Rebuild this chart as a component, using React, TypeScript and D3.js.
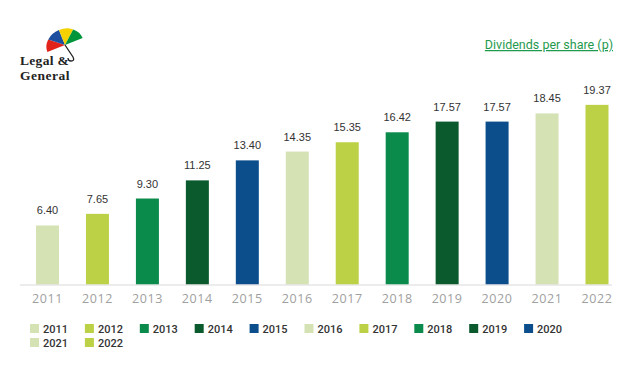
import React from "react";
import * as d3 from "d3";

const years = ["2011", "2012", "2013", "2014", "2015", "2016", "2017", "2018", "2019", "2020", "2021", "2022"];
const dividends = [6.4, 7.65, 9.3, 11.25, 13.4, 14.35, 15.35, 16.42, 17.57, 17.57, 18.45, 19.37];
const labels = ["6.40", "7.65", "9.30", "11.25", "13.40", "14.35", "15.35", "16.42", "17.57", "17.57", "18.45", "19.37"];
const palette = ["#d5e2b4", "#bdd147", "#0a8a4b", "#0b5a2d", "#0c4e8c"];

const W = 640;
const H = 369;
const baseY = 285;

export default function App() {
  const x = d3.scalePoint<string>().domain(years).range([47.5, 597]);
  const y = d3.scaleLinear().domain([0, 20]).range([baseY, 99]);
  const color = (i: number) => palette[i % palette.length];
  const barW = 23;

  // umbrella canopy wedges
  const arc = d3.arc<any>().innerRadius(0).outerRadius(19);
  const umbrellaColors = ["#e2231a", "#1d4f9e", "#f5d100", "#00953b"];
  const wedges = umbrellaColors.map((c, i) => ({
    c,
    start: -Math.PI / 2 + (i * Math.PI) / 4,
    end: -Math.PI / 2 + ((i + 1) * Math.PI) / 4,
  }));

  const legendX = (i: number) => 30 + (i % 10) * 54.9;
  const legendY = (i: number) => 324 + Math.floor(i / 10) * 14;

  return (
    <svg width={W} height={H} style={{ position: "absolute", left: 0, top: 0, background: "#fff" }}>
      {/* logo */}
      <g transform="translate(65,45) rotate(-22) scale(1,0.85)">
        {wedges.map((w, i) => (
          <path key={i} d={arc({ startAngle: w.start, endAngle: w.end }) as string} fill={w.c} />
        ))}
      </g>
      <path d="M65,45 L73,57 Q75,61 71,61 Q68,61 68,58" fill="none" stroke="#222" strokeWidth={1.3} />
      <text x={20} y={65} fontFamily="Liberation Serif" fontWeight="bold" fontSize={13.5} fill="#222" letterSpacing={0.3}>
        Legal &amp;
      </text>
      <text x={20} y={80} fontFamily="Liberation Serif" fontWeight="bold" fontSize={13.5} fill="#222" letterSpacing={0.5}>
        General
      </text>

      {/* title */}
      <text x={613} y={49} textAnchor="end" fontFamily="Roboto" fontSize={12.5} fill="#1f9a4e" textDecoration="underline">
        Dividends per share (p)
      </text>

      {/* bars */}
      {years.map((yr, i) => (
        <g key={yr}>
          <rect x={x(yr)! - barW / 2} y={y(dividends[i])} width={barW} height={baseY - y(dividends[i])} fill={color(i)} />
          <text x={x(yr)} y={y(dividends[i]) - 11} textAnchor="middle" fontFamily="Liberation Sans" fontSize={11} fill="#333">
            {labels[i]}
          </text>
        </g>
      ))}

      {/* baseline */}
      <line x1={20} x2={612} y1={baseY} y2={baseY} stroke="#e6e6e6" strokeWidth={1.5} />

      {/* x labels */}
      {years.map((yr) => (
        <text key={yr} x={x(yr)} y={303} textAnchor="middle" fontFamily="Open Sans" fontSize={12.5} fill="#a0a0a0" letterSpacing={0.6}>
          {yr}
        </text>
      ))}

      {/* legend */}
      {years.map((yr, i) => (
        <g key={yr} transform={`translate(${legendX(i)},${legendY(i)})`}>
          <rect x={0} y={0} width={9} height={9} fill={color(i)} />
          <text x={13} y={8.5} fontFamily="Roboto" fontWeight={500} fontSize={11} fill="#333">
            {yr}
          </text>
        </g>
      ))}
    </svg>
  );
}
